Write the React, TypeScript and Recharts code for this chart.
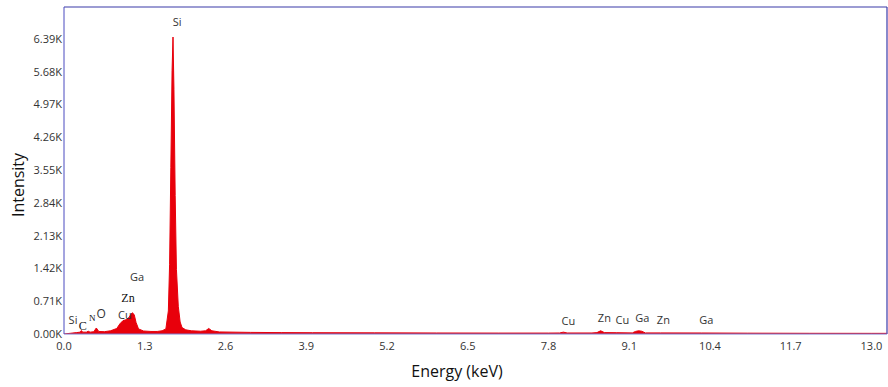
import React from "react";
import {AreaChart, Area, XAxis, YAxis, ReferenceLine, ReferenceDot} from "recharts";

// spectrum (keV, counts)
const energy = [
    0.0, 0.1, 0.2, 0.26, 0.28, 0.3, 0.36, 0.39, 0.42, 0.48, 0.52, 0.56, 0.65, 0.75,
    0.85, 0.9, 0.95, 1.0, 1.04, 1.08, 1.1, 1.13, 1.16, 1.2, 1.28, 1.4, 1.5, 1.58,
    1.64, 1.68, 1.7, 1.72, 1.74, 1.755, 1.77, 1.79, 1.81, 1.84, 1.87, 1.9, 1.96,
    2.05, 2.2, 2.28, 2.33, 2.38, 2.5, 3.0, 3.5, 4.0, 5.0, 6.0, 7.0, 7.8, 7.98,
    8.04, 8.1, 8.5, 8.58, 8.64, 8.7, 8.9, 9.15, 9.2, 9.25, 9.3, 9.36, 9.6, 10.26,
    11.0, 12.0, 13.0, 13.25,
];
const counts = [
    0, 15, 30, 40, 75, 40, 40, 60, 40, 50, 130, 55, 50, 70,
    120, 220, 290, 310, 350, 430, 460, 420, 250, 110, 65, 55, 55, 70,
    110, 500, 1500, 3600, 5700, 6430, 5300, 3000, 1400, 600, 260, 140, 90,
    70, 60, 70, 120, 70, 45, 35, 30, 28, 25, 22, 20, 20, 22,
    40, 22, 22, 30, 70, 30, 28, 24, 55, 70, 60, 24, 24, 22,
    18, 15, 14, 14,
];
const spectrum = energy.map((e, i) => ({e, c: counts[i]}));

const xTicks = [0, 1.3, 2.6, 3.9, 5.2, 6.5, 7.8, 9.1, 10.4, 11.7, 13.0];
const yTicks = [0, 710, 1420, 2130, 2840, 3550, 4260, 4970, 5680, 6390];

// element labels (keV, counts, text, serif glyph)
const labelE = [0.145, 0.3, 0.455, 0.6, 0.98, 1.03, 1.175, 1.82, 8.12, 8.7, 8.99, 9.31, 9.65, 10.34];
const labelC = [303, 180, 360, 433, 411, 779, 1234, 6754, 281, 346, 303, 346, 303, 303];
const labelT = ["Si", "C", "N", "O", "Cu", "Zn", "Ga", "Si", "Cu", "Zn", "Cu", "Ga", "Zn", "Ga"];
const labelSize = [11, 12, 9, 12, 11, 12, 11, 11, 11, 11, 11, 11, 11, 11];
const labelSerif = [false, true, true, false, false, true, false, false, false, false, false, false, false, false];

const X_MAX = 13.25;
const Y_MAX = 7080;
const FONT = "'Open Sans', 'Noto Sans', sans-serif";
const SERIF = "'Liberation Serif', 'DejaVu Serif', serif";

const ElementLabel = (props: any) => {
    const {viewBox, text, serif, size} = props;
    const cx = viewBox.x + (viewBox.width || 0) / 2;
    const cy = viewBox.y + (viewBox.height || 0) / 2;
    return (
        <text x={cx} y={cy} dy="0.35em" textAnchor="middle"
              fontSize={size} fontFamily={serif ? SERIF : FONT}
              fill={serif ? "#111" : "#333"}>{text}</text>
    );
};

const App = () => {
    return (
        <div style={{position: "absolute", left: 0, top: 0}}>
            <AreaChart width={888} height={387} data={spectrum}
                       margin={{top: 7, right: 1, left: 0, bottom: 0}}>
                <XAxis dataKey="e" type="number" domain={[0, X_MAX]} ticks={xTicks}
                       tickFormatter={(v: number) => v.toFixed(1)}
                       stroke="#7b7bd0" tickLine={false} tickSize={4} tickMargin={4}
                       height={53} allowDataOverflow
                       tick={{fill: "#333", fontSize: 11, fontFamily: FONT}}
                       label={(p: any) => (
                           <text x={457} y={377} textAnchor="middle" fontSize={16}
                                 fontFamily={FONT} fill="#111">Energy (keV)</text>
                       )}/>
                <YAxis type="number" domain={[0, Y_MAX]} ticks={yTicks} width={64}
                       tickFormatter={(v: number) => (v / 1000).toFixed(2) + "K"}
                       stroke="#4a4ac0" tickLine={false} tickSize={1} tickMargin={1}
                       allowDataOverflow
                       tick={{fill: "#333", fontSize: 11, fontFamily: FONT}}
                       label={(p: any) => (
                           <text x={24} y={185} textAnchor="middle" fontSize={16}
                                 fontFamily={FONT} fill="#111"
                                 transform="rotate(-90 24 185)">Intensity</text>
                       )}/>
                <ReferenceLine y={Y_MAX} stroke="#3a3aa8" strokeWidth={1.2}/>
                <ReferenceLine x={X_MAX} stroke="#3a3aa8" strokeWidth={1.2}/>
                <Area type="linear" dataKey="c" stroke="#e8000b" strokeWidth={1}
                      fill="#e8000b" fillOpacity={1} isAnimationActive={false} dot={false}
                      activeDot={false}/>
                {labelT.map((t, i) => (
                    <ReferenceDot key={`lab-${i}`} x={labelE[i]} y={labelC[i]} r={0}
                                  fill="none" stroke="none"
                                  label={<ElementLabel text={t} serif={labelSerif[i]} size={labelSize[i]}/>}/>
                ))}
            </AreaChart>
        </div>
    );
};

export default App;
